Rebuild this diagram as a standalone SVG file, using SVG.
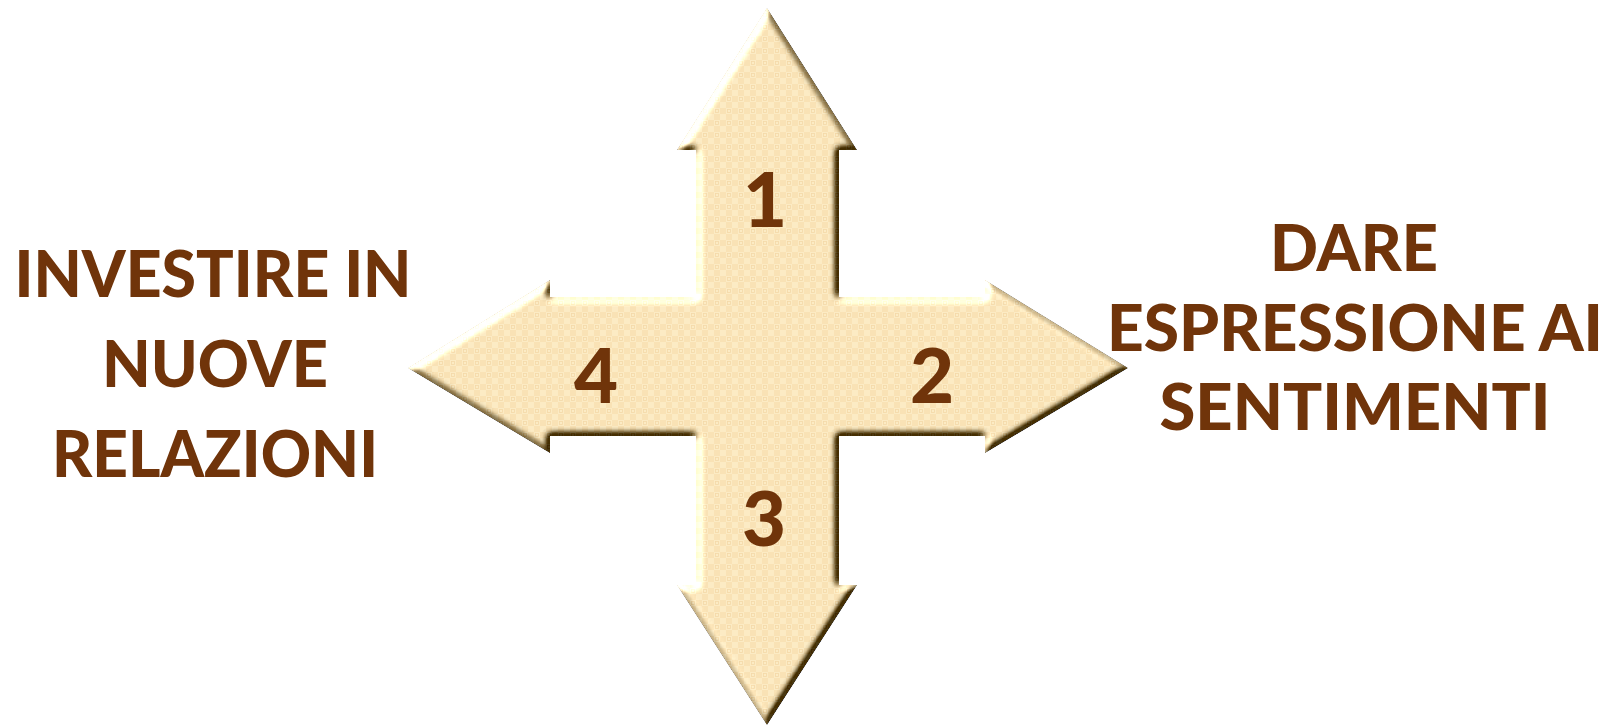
<svg xmlns="http://www.w3.org/2000/svg" width="1613" height="727" viewBox="0 0 1613 727">
  <defs>
    <style>
      .lbl { font-family: Lato, "Open Sans", "Liberation Sans", sans-serif; font-weight: 900; fill: #70340A; text-anchor: middle; }
      .side { font-size: 65px; }
      .num { font-size: 76px; }
    </style>
    <pattern id="tex" width="12" height="12" patternUnits="userSpaceOnUse">
      <rect width="12" height="12" fill="#FCEBC4"/>
      <rect x="0" y="0" width="6" height="6" fill="#F9E2B5"/>
      <rect x="6" y="6" width="6" height="6" fill="#F9E2B5"/>
      <rect x="7.5" y="1.5" width="3" height="3" fill="none" stroke="#F4D9A8" stroke-width="0.8"/>
    </pattern>
    <filter id="bevel" x="-5%" y="-5%" width="110%" height="110%" color-interpolation-filters="sRGB">
      <feGaussianBlur in="SourceAlpha" stdDeviation="3.5" result="blur"/>
      <feDiffuseLighting in="blur" surfaceScale="7" diffuseConstant="1" lighting-color="#ffffff" result="light">
        <feDistantLight azimuth="225" elevation="45"/>
      </feDiffuseLighting>
      <feComposite in="SourceGraphic" in2="light" operator="arithmetic" k1="0" k2="1" k3="1" k4="-0.707" result="lit"/>
      <feComposite in="lit" in2="SourceAlpha" operator="in"/>
    </filter>
  </defs>

  <rect width="1613" height="727" fill="#ffffff"/>

  <g id="cross">
    <polygon filter="url(#bevel)" fill="url(#tex)"
      points="767,8 857,150 839,150 839,297 985,297 985,280 1128,368 985,453 985,436 839,436 839,585 857,585 767,725 677,585 696,585 696,436 550,436 550,453 408,368 550,280 550,297 696,297 696,150 677,150"/>
  </g>

  <g id="connectors"></g>

  <g id="num-1"><text class="lbl num" x="765" y="227">1</text></g>
  <g id="num-2"><text class="lbl num" x="932" y="403">2</text></g>
  <g id="num-3"><text class="lbl num" x="764" y="546">3</text></g>
  <g id="num-4"><text class="lbl num" x="596" y="403">4</text></g>

  <g id="label-left">
    <text class="lbl side" x="213" y="297" textLength="397" lengthAdjust="spacingAndGlyphs">INVESTIRE IN</text>
    <text class="lbl side" x="215" y="387" textLength="226" lengthAdjust="spacingAndGlyphs">NUOVE</text>
    <text class="lbl side" x="215" y="477" textLength="326" lengthAdjust="spacingAndGlyphs">RELAZIONI</text>
  </g>

  <g id="label-right">
    <text class="lbl side" x="1354" y="271" textLength="168" lengthAdjust="spacingAndGlyphs">DARE</text>
    <text class="lbl side" x="1355" y="351" textLength="496" lengthAdjust="spacingAndGlyphs">ESPRESSIONE AI</text>
    <text class="lbl side" x="1355" y="430" textLength="391" lengthAdjust="spacingAndGlyphs">SENTIMENTI</text>
  </g>
</svg>
